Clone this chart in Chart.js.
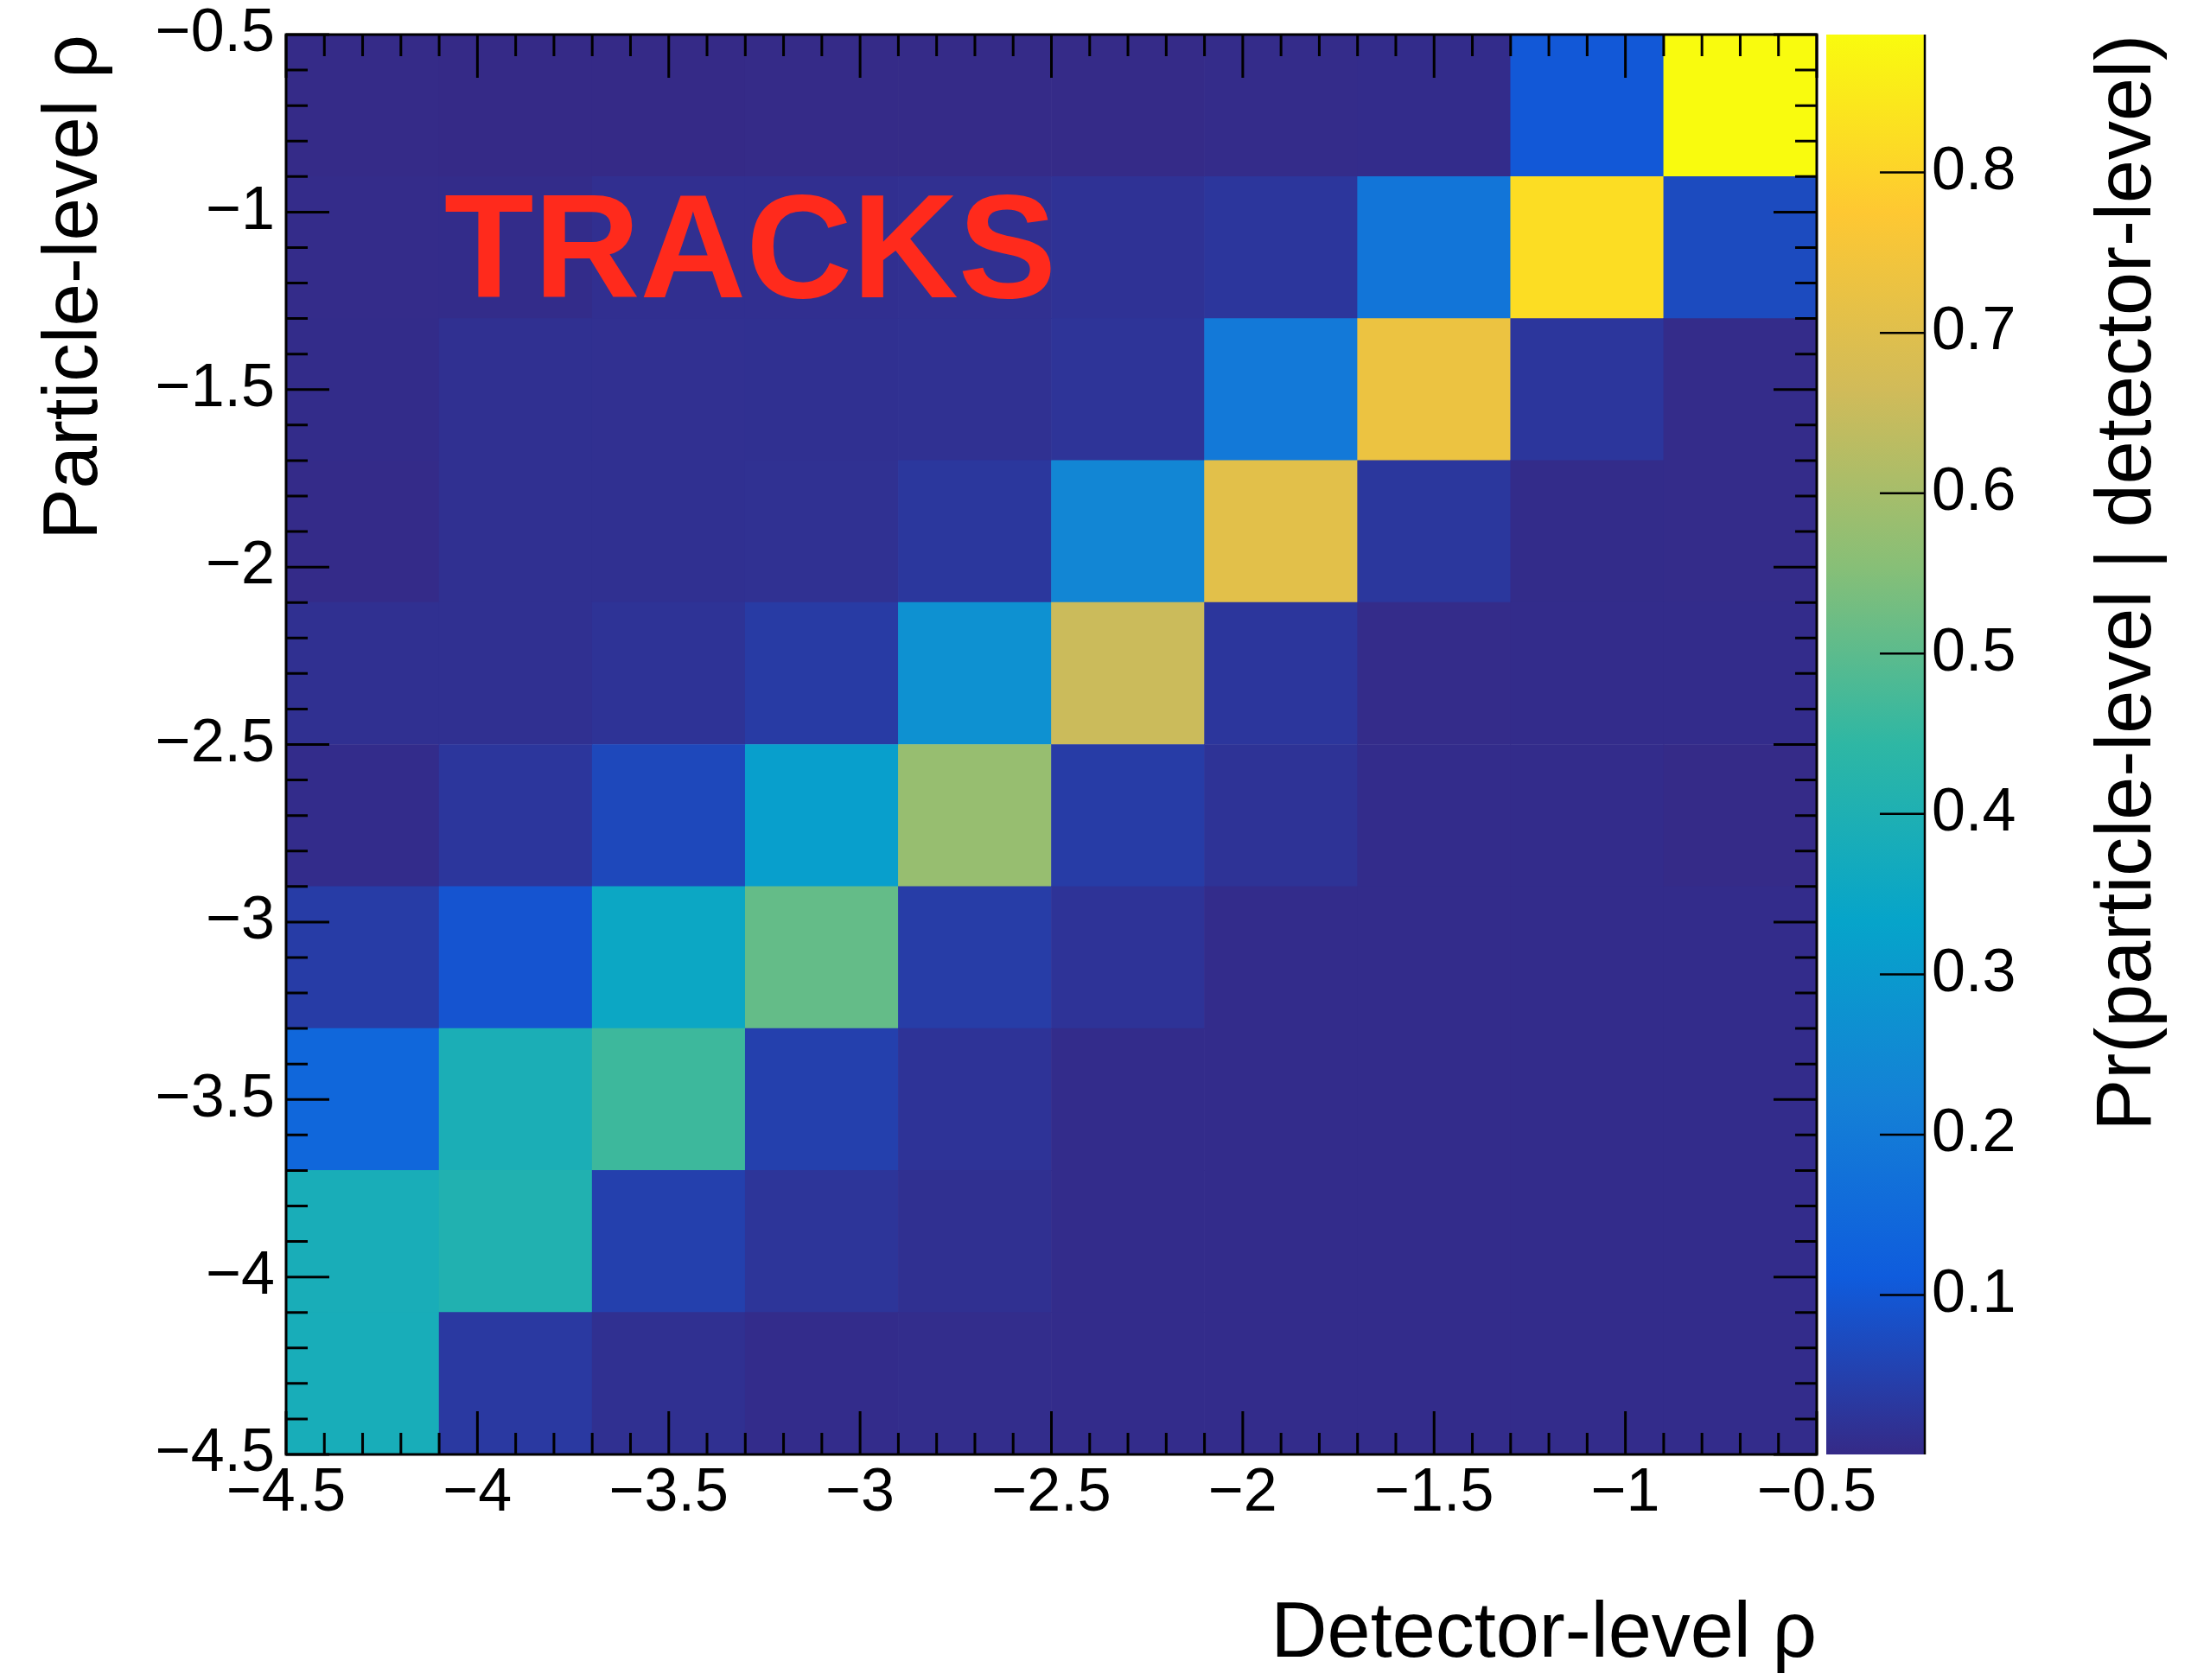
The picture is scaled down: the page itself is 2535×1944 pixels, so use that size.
<!DOCTYPE html>
<html>
<head>
<meta charset="utf-8">
<title>Tracks – response matrix</title>
<script src="https://cdn.jsdelivr.net/npm/chart.js@4.4.1/dist/chart.umd.min.js"></script>
<style>
  html, body { margin: 0; padding: 0; background: #ffffff; }
  #wrap  { width: 2535px; height: 1944px; }
  canvas { display: block; }
</style>
</head>
<body>
<div id="wrap"><canvas id="matrix" width="2535" height="1944"></canvas></div>
<script>
// ─────────────────────────────────────────────
//  Data
// ─────────────────────────────────────────────

// rho bin edges, same binning for detector level (x) and particle level (y)
const rhoEdges = [-4.5, -4.1, -3.7, -3.3, -2.9, -2.5, -2.1, -1.7, -1.3, -0.9, -0.5];

// Pr(particle-level | detector-level)
// one row per particle-level bin (lowest rho first), columns = detector-level bins left to right
const prob = [
  [0.383, 0.034, 0.014, 0.006, 0.007, 0.006, 0.006, 0.006, 0.006, 0.006],
  [0.385, 0.408, 0.049, 0.024, 0.014, 0.006, 0.006, 0.006, 0.006, 0.006],
  [0.144, 0.391, 0.462, 0.050, 0.021, 0.006, 0.006, 0.006, 0.006, 0.006],
  [0.040, 0.094, 0.350, 0.511, 0.042, 0.021, 0.006, 0.006, 0.006, 0.006],
  [0.006, 0.027, 0.067, 0.317, 0.578, 0.040, 0.020, 0.006, 0.006, 0.002],
  [0.014, 0.014, 0.020, 0.038, 0.272, 0.656, 0.027, 0.004, 0.006, 0.006],
  [0.003, 0.014, 0.014, 0.015, 0.029, 0.237, 0.706, 0.029, 0.005, 0.004],
  [0.005, 0.014, 0.013, 0.014, 0.015, 0.022, 0.198, 0.732, 0.027, 0.004],
  [0.004, 0.005, 0.012, 0.012, 0.013, 0.018, 0.027, 0.185, 0.821, 0.073],
  [0.002, 0.001, 0.001, 0.002, 0.002, 0.002, 0.004, 0.006, 0.103, 0.886],
];

const rhoTicks = [-4.5, -4, -3.5, -3, -2.5, -2, -1.5, -1, -0.5];
const zTicks   = [0.1, 0.2, 0.3, 0.4, 0.5, 0.6, 0.7, 0.8];
const zMin     = 0.0006;
const zMax     = 0.886;

// ─────────────────────────────────────────────
//  Palette (ROOT kBird)
// ─────────────────────────────────────────────

const birdStops = [0, 0.125, 0.25, 0.375, 0.5, 0.625, 0.75, 0.875, 1];
const birdRGB   = [
  [53, 42, 135], [15, 92, 221], [20, 129, 214], [6, 164, 202], [46, 183, 164],
  [135, 191, 119], [209, 187, 89], [254, 200, 50], [249, 251, 14],
];

const rgbStr = c => `rgb(${c.map(Math.round).join(',')})`;

function birdColor(v) {
  const t = Math.min(1, Math.max(0, (v - zMin) / (zMax - zMin)));
  let k = 0;
  while (k < birdStops.length - 2 && t > birdStops[k + 1]) k++;
  const f = (t - birdStops[k]) / (birdStops[k + 1] - birdStops[k]);
  const a = birdRGB[k], b = birdRGB[k + 1];
  return rgbStr(a.map((ch, i) => ch + (b[i] - ch) * f));
}

const fmtRho = v => String(+v.toFixed(1)).replace('-', '\u2212');

// ─────────────────────────────────────────────
//  Frame, inward ticks, colour bar, labels
// ─────────────────────────────────────────────

const FONT       = "'Liberation Sans', Arial, sans-serif";
const MAJOR_TICK = 50;
const MINOR_TICK = 25;

const rootStyle = {
  id: 'rootStyle',
  afterDatasetsDraw(chart) {
    const { ctx, chartArea: { left, right, top, bottom }, scales: { x, y, z } } = chart;
    ctx.save();

    // TRACKS tag
    ctx.fillStyle    = '#ff2a1c';
    ctx.font         = `bold 170px ${FONT}`;
    ctx.textAlign    = 'left';
    ctx.textBaseline = 'alphabetic';
    ctx.fillText('TRACKS', x.getPixelForValue(-4.087), y.getPixelForValue(-1.24));

    // frame
    ctx.strokeStyle = '#000';
    ctx.lineWidth   = 3;
    ctx.strokeRect(left, top, right - left, bottom - top);

    // ticks every 0.1, long ones every 0.5
    ctx.beginPath();
    for (let k = 0; k <= 40; k++) {
      const v   = rhoEdges[0] + k * 0.1;
      const len = k % 5 === 0 ? MAJOR_TICK : MINOR_TICK;
      const px  = x.getPixelForValue(v);
      const py  = y.getPixelForValue(v);
      ctx.moveTo(px, bottom); ctx.lineTo(px, bottom - len);
      ctx.moveTo(px, top);    ctx.lineTo(px, top + len);
      ctx.moveTo(left, py);   ctx.lineTo(left + len, py);
      ctx.moveTo(right, py);  ctx.lineTo(right - len, py);
    }
    ctx.stroke();

    // colour bar
    const barL = z.left + 11, barR = z.left + 125;
    const zTop = z.getPixelForValue(zMax), zBot = z.getPixelForValue(zMin);
    const grad = ctx.createLinearGradient(0, zBot, 0, zTop);
    birdStops.forEach((s, i) => grad.addColorStop(s, rgbStr(birdRGB[i])));
    ctx.fillStyle = grad;
    ctx.fillRect(barL, zTop, barR - barL, zBot - zTop);

    ctx.lineWidth = 2.5;
    ctx.beginPath();
    ctx.moveTo(barR, zTop); ctx.lineTo(barR, zBot);
    z.ticks.forEach(t => {
      const py = z.getPixelForValue(t.value);
      ctx.moveTo(barR - 52, py); ctx.lineTo(barR, py);
    });
    ctx.stroke();

    // colour bar title, reads bottom to top, ends at the top of the bar
    ctx.fillStyle = '#000';
    ctx.font      = `90px ${FONT}`;
    ctx.translate(z.left + 386, zTop);
    ctx.rotate(-Math.PI / 2);
    ctx.textAlign = 'right';
    ctx.fillText('Pr(particle-level | detector-level)', 0, 0);

    ctx.restore();
  }
};

// vertical axes: keep the label overhang from shrinking the plot area
const noOverhang = s => { s.paddingTop = 0; s.paddingBottom = 0; };

// ─────────────────────────────────────────────
//  Chart
// ─────────────────────────────────────────────

Chart.defaults.font.family = FONT;
Chart.defaults.color       = '#000';

const datasets = prob.map((row, i) => ({
  data: row.map((v, j) => ({
    x: (rhoEdges[j] + rhoEdges[j + 1]) / 2,
    y: [rhoEdges[i], rhoEdges[i + 1]],
  })),
  backgroundColor:    row.map(birdColor),
  borderWidth:        0,
  grouped:            false,
  barPercentage:      1,
  categoryPercentage: 1,
}));

const tickFont = { size: 70, lineHeight: 1 };

new Chart(document.getElementById('matrix').getContext('2d'), {
  type: 'bar',
  data: { datasets },
  options: {
    responsive: false,
    animation: false,
    devicePixelRatio: 1,
    layout: { padding: { left: 0, right: 0, top: 40, bottom: 7 } },
    plugins: {
      legend:  { display: false },
      tooltip: { enabled: false },
    },
    scales: {
      x: {
        type: 'linear',
        position: 'bottom',
        min: rhoEdges[0],
        max: rhoEdges[rhoEdges.length - 1],
        offset: false,
        grid:   { display: false, drawTicks: false },
        border: { display: false },
        afterBuildTicks: s => { s.ticks = rhoTicks.map(value => ({ value })); },
        afterFit: s => { s.height = 254; },
        ticks: {
          font: tickFont, padding: 11, autoSkip: false, maxRotation: 0, minRotation: 0,
          callback: v => fmtRho(v),
        },
        title: {
          display: true, text: 'Detector-level \u03c1', align: 'end',
          font: { size: 90, lineHeight: 1 }, padding: { top: 0, bottom: 0 },
        },
      },
      y: {
        type: 'linear',
        position: 'left',
        min: rhoEdges[0],
        max: rhoEdges[rhoEdges.length - 1],
        grid:   { display: false, drawTicks: false },
        border: { display: false },
        afterBuildTicks: s => { s.ticks = rhoTicks.map(value => ({ value })); },
        afterFit: s => { s.width = 331; noOverhang(s); },
        ticks: { font: tickFont, padding: 13, autoSkip: false, callback: v => fmtRho(v) },
        title: {
          display: true, text: 'Particle-level \u03c1', align: 'end',
          font: { size: 89, lineHeight: 1.2 }, padding: { top: 34, bottom: 0 },
        },
      },
      z: {
        type: 'linear',
        position: 'right',
        min: zMin,
        max: zMax,
        grid:   { display: false, drawTicks: false },
        border: { display: false },
        afterBuildTicks: s => { s.ticks = zTicks.map(value => ({ value })); },
        afterFit: s => { s.width = 433; noOverhang(s); },
        ticks: { font: tickFont, padding: 133, autoSkip: false, callback: v => (+v.toFixed(1)).toString() },
      },
    },
  },
  plugins: [rootStyle],
});
</script>
</body>
</html>
